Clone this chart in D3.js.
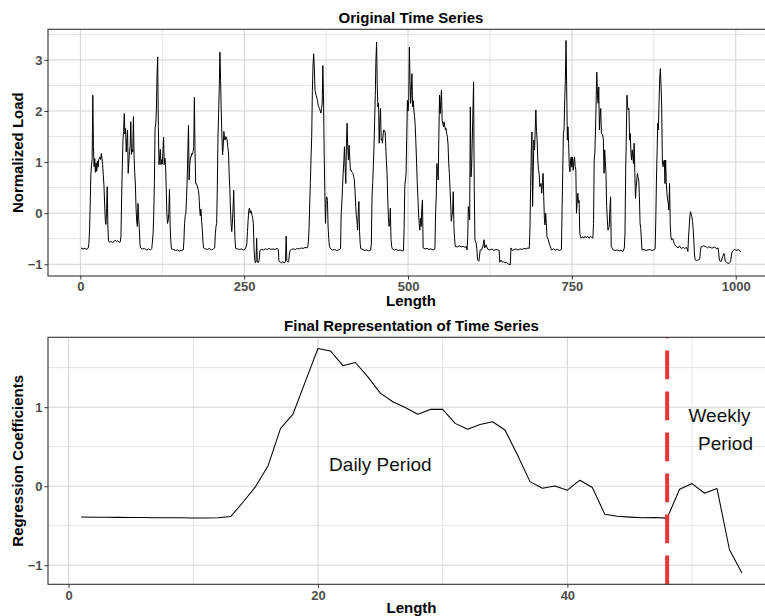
<!DOCTYPE html>
<html><head><meta charset="utf-8">
<script src="https://cdn.jsdelivr.net/npm/d3@7"></script>
<style>
body{margin:0;background:#fff;}
svg text{font-family:"Liberation Sans",Arial,Helvetica,sans-serif;}
</style>
</head><body>
<svg id="chart" width="765" height="616"></svg>
<script>
// ---------------- DATA ----------------
// Original time series (index, normalized load)
const week1 = [
[1,-0.68],[4,-0.70],[7,-0.69],[10,-0.71],[12,-0.68],[13,-0.60],[14,-0.35],[15,0.15],[16,0.75],[17,0.95],[18,1.05],[19,2.31],[20,1.3],[21,0.91],[22,1.07],[23,0.80],[24,0.98],[25,0.82],[26,1.02],[27,0.90],[28,1.05],[30,1.10],[31,1.05],[32,1.17],[33,1.08],[34,0.95],[35,0.75],[36,0.55],[37,0.2],[38,-0.13],[39,-0.22],[40,0.0],[41,0.52],[42,-0.25],[43,-0.55],[45,-0.57],[47,-0.55],[49,-0.58],[51,-0.56],[53,-0.53],[55,-0.55],[57,-0.54],[59,-0.57],[61,-0.56],
[62,-0.45],[63,0.3],[64,0.9],[65,1.43],[66,1.6],[67,1.95],[68,1.55],[69,1.66],[70,1.2],[71,1.43],[72,1.63],[73,0.78],[74,1.0],[75,1.21],[76,1.3],[77,1.79],[78,1.15],[79,1.25],[80,1.2],[81,1.89],[82,1.1],[83,0.8],[84,0.55],[85,0.1],[86,-0.16],[87,-0.26],[88,0.19],[89,-0.1],[90,-0.3],[91,-0.62],[92,-0.68],[95,-0.70],[98,-0.69],[101,-0.72],[104,-0.70],[107,-0.72],[109,-0.69],
[110,-0.55],[111,-0.4],[112,0.0],[113,0.6],[114,1.66],[115,1.75],[116,2.0],[117,2.7],[118,3.06],[119,1.7],[120,0.95],[121,1.1],[122,1.25],[123,0.95],[124,1.05],[125,0.96],[126,1.2],[127,1.49],[128,0.95],[129,1.08],[130,0.95],[131,0.5],[132,0.0],[133,-0.2],[134,-0.15],[135,0.0],[136,0.47],[137,-0.25],[138,-0.55],[139,-0.70],[142,-0.71],[145,-0.73],[148,-0.72],[151,-0.74],[154,-0.73],[157,-0.72],
[158,-0.55],[159,-0.2],[160,-0.05],[161,0.0],[162,0.3],[163,0.65],[164,1.2],[165,1.72],[166,0.65],[167,0.95],[168,1.1],[169,1.1],[170,1.17],[171,1.15],[172,1.2],[173,1.3],[174,2.27],[175,1.2],[176,0.58],[177,0.58],[178,0.55],[180,0.45],[181,0.35],[182,0.1],[183,-0.05],[184,0.08],[185,-0.16],[186,-0.3],[187,-0.55],[188,-0.68],[191,-0.70],[194,-0.71],[197,-0.69],[200,-0.72],[203,-0.70],[205,-0.68],
[206,-0.4],[207,-0.26],[208,-0.2],[209,0.5],[210,1.5],[211,1.95],[212,2.5],[213,3.15],[214,2.6],[215,2.0],[216,1.5],[217,1.14],[218,1.3],[219,1.6],[220,1.45],[221,1.43],[222,1.5],[223,1.48],[224,1.43],[225,1.3],[226,1.2],[227,0.78],[228,0.5],[229,0.1],[230,-0.2],[231,-0.36],[232,-0.18],[233,0.1],[234,0.45],[235,-0.1],[236,-0.52],[237,-0.69],[240,-0.70],[243,-0.71],[246,-0.70],[249,-0.72],[252,-0.70],
[254,-0.60],[255,-0.36],[256,-0.13],[257,0.05],[258,0.10],[259,0.0],[260,0.05],[261,0.02],[262,-0.05],[263,-0.10],[264,-0.2],[265,-0.7],[266,-0.9],[267,-0.97],[268,-0.96],[269,-0.49],[270,-0.93],[271,-0.97],[272,-0.96],[273,-0.90],[274,-0.73],[276,-0.71],[279,-0.72],[282,-0.70],[285,-0.71],[288,-0.69],[291,-0.71],[294,-0.70],[297,-0.71],[300,-0.69],[302,-0.71],[303,-0.93],[305,-0.96],[307,-0.97],[309,-0.95],[311,-0.97],[313,-0.95],[314,-0.45],[315,-0.93],[317,-0.96],[318,-0.93],[319,-0.80],[320,-0.73],[322,-0.71],[325,-0.70],[328,-0.71],[331,-0.69],[334,-0.70]
];
const week2 = [
[337,-0.68],[340,-0.69],[343,-0.67],[346,-0.68],[347,-0.66],[348,-0.55],[349,-0.3],[350,0.2],[351,0.6],[352,1.1],[353,1.5],[354,2.4],[355,2.9],[356,3.12],[357,2.85],[358,2.41],[359,2.35],[360,2.3],[361,2.25],[362,2.2],[363,2.1],[364,2.08],[365,2.05],[366,2.0],[367,1.96],[368,2.05],[369,2.15],[370,2.89],[371,2.3],[372,1.2],[373,0.42],[374,-0.2],[375,0.26],[376,0.32],[377,0.25],[378,-0.26],[379,-0.5],[380,-0.65],[382,-0.70],[385,-0.72],[388,-0.71],[391,-0.73],[394,-0.72],[397,-0.70],
[398,0.0],[399,0.2],[400,0.5],[401,0.78],[402,1.0],[403,1.3],[404,0.9],[405,0.58],[406,1.37],[407,1.76],[408,1.3],[409,1.04],[410,1.33],[411,1.1],[412,0.84],[413,0.85],[414,0.81],[415,0.80],[416,0.78],[417,0.72],[418,0.65],[419,0.45],[420,0.2],[421,-0.05],[422,-0.13],[423,-0.33],[424,0.0],[425,0.23],[426,-0.36],[427,-0.6],[428,-0.70],[431,-0.71],[434,-0.73],[437,-0.72],[440,-0.74],[443,-0.72],
[444,-0.60],[445,0.3],[446,0.58],[447,0.91],[448,1.3],[449,1.8],[450,2.3],[451,3.0],[452,3.35],[453,2.5],[454,2.08],[455,2.15],[456,1.37],[457,1.8],[458,2.05],[459,1.43],[460,1.45],[461,1.37],[462,1.55],[463,1.63],[464,1.6],[465,1.6],[466,1.3],[467,1.0],[468,0.78],[469,0.3],[470,-0.07],[471,-0.26],[472,-0.2],[473,0.1],[474,-0.52],[475,-0.65],[476,-0.70],[479,-0.72],[482,-0.71],[485,-0.73],[488,-0.72],[491,-0.74],[493,-0.73],
[494,-0.3],[495,0.52],[496,0.65],[497,0.78],[498,1.5],[499,2.21],[500,2.0],[501,2.21],[502,3.25],[503,2.6],[504,2.15],[505,2.4],[506,2.73],[507,2.08],[508,2.2],[509,2.0],[510,1.89],[511,1.69],[512,1.37],[513,1.0],[514,0.6],[515,0.32],[516,0.0],[517,-0.2],[518,-0.33],[519,-0.1],[520,-0.26],[521,0.1],[522,0.26],[523,-0.68],[526,-0.70],[529,-0.69],[532,-0.71],[535,-0.70],[538,-0.72],[541,-0.70],
[542,0.0],[543,0.3],[544,0.97],[545,0.8],[546,0.65],[547,1.5],[548,2.31],[549,1.95],[550,2.2],[551,2.41],[552,1.82],[553,1.75],[554,1.69],[555,1.79],[556,1.7],[557,1.63],[558,1.66],[559,1.55],[560,1.5],[561,1.35],[562,1.0],[563,0.78],[564,0.5],[565,0.2],[566,-0.16],[567,-0.05],[568,0.03],[569,0.42],[570,-0.26],[571,-0.5],[572,-0.65],[575,-0.66],[578,-0.64],[581,-0.66],[584,-0.65],[587,-0.67],[589,-0.65],[590,-0.72],
[591,-0.5],[592,0.13],[593,0.0],[594,-0.13],[595,2.08],[596,0.71],[597,0.9],[598,1.43],[599,2.0],[600,2.57],[601,0.52],[602,-0.52],[604,-0.59],[605,-0.7],[606,-0.91],[608,-0.94],[609,-0.85],[610,-0.72],[612,-0.72],[614,-0.66],[616,-0.52],[617,-0.68],[619,-0.62],[620,-0.66],[622,-0.71],[625,-0.72],[628,-0.70],[631,-0.73],[634,-0.71],[637,-0.72],[639,-0.73],[640,-0.96],[642,-0.92],[644,-0.96],[646,-0.95],[648,-0.97],[650,-0.96],[652,-0.99],[654,-1.0],[656,-1.01],[657,-0.68],[659,-0.73],[662,-0.71],[665,-0.70],[668,-0.72],[671,-0.70]
];
const week3 = [
[674,-0.71],[677,-0.69],[680,-0.70],[683,-0.68],[685,-0.69],
[686,-0.3],[687,0.5],[688,1.2],[689,1.59],[690,0.13],[691,0.8],[692,1.43],[693,1.24],[694,1.6],[695,2.02],[696,1.6],[697,1.43],[698,1.04],[699,0.85],[700,0.78],[701,0.52],[702,0.55],[703,0.58],[704,0.39],[705,0.6],[706,0.78],[707,0.32],[708,-0.1],[709,-0.23],[710,0.0],[711,-0.2],[712,-0.46],[714,-0.52],[716,-0.62],[719,-0.72],[722,-0.70],[725,-0.72],[728,-0.71],[731,-0.73],[734,-0.71],
[735,0.07],[736,0.8],[737,1.56],[738,1.63],[739,2.2],[740,2.6],[741,3.38],[742,2.5],[743,1.43],[744,1.69],[745,1.37],[746,0.91],[747,0.81],[748,1.04],[749,1.1],[750,0.9],[751,1.1],[752,0.84],[753,1.0],[754,1.1],[755,0.91],[756,0.85],[757,0.0],[758,0.2],[759,0.39],[760,0.2],[761,0.25],[762,-0.39],[763,-0.46],[764,-0.49],[766,-0.46],[768,-0.49],[770,-0.45],[772,-0.48],[774,-0.45],[776,-0.49],[778,-0.46],[780,-0.47],[782,-0.49],
[783,-0.2],[784,1.04],[785,1.17],[786,1.6],[787,2.21],[788,2.76],[789,2.3],[790,2.15],[791,2.47],[792,1.63],[793,1.9],[794,2.05],[795,1.56],[796,1.55],[797,1.53],[798,1.43],[799,0.78],[800,1.24],[801,1.0],[802,0.78],[803,0.13],[804,-0.1],[805,-0.33],[806,-0.3],[807,-0.26],[808,0.1],[809,0.32],[810,-0.65],[813,-0.72],[816,-0.73],[819,-0.72],[822,-0.74],[825,-0.73],[828,-0.75],[830,-0.68],
[831,-0.39],[832,0.78],[833,1.5],[834,2.31],[835,2.1],[836,2.02],[837,2.05],[838,1.43],[839,1.56],[840,1.2],[841,1.04],[842,1.24],[843,1.1],[844,0.97],[845,1.37],[846,0.8],[847,0.29],[848,0.5],[849,0.65],[850,0.78],[851,0.7],[852,0.65],[853,0.32],[854,-0.2],[855,-0.3],[856,-0.52],[857,-0.72],[860,-0.71],[863,-0.73],[866,-0.72],[869,-0.71],[872,-0.73],[875,-0.72],[877,-0.70],
[878,-0.13],[879,0.65],[880,1.2],[881,1.76],[882,1.63],[883,2.2],[884,2.67],[885,2.83],[886,2.5],[887,2.08],[888,1.04],[889,0.91],[890,1.0],[891,1.04],[892,0.58],[893,1.04],[894,0.6],[895,0.39],[896,0.26],[897,0.2],[898,0.06],[899,0.58],[900,-0.2],[901,-0.46],[902,-0.52],[904,-0.50],[906,-0.59],[907,-0.62],[909,-0.65],[912,-0.68],[914,-0.64],[917,-0.69],[920,-0.67],[922,-0.69],[925,-0.67],[927,-0.75],[928,-0.45],[929,-0.26],[930,-0.05],[931,0.03],[932,-0.02],[933,-0.07],[934,-0.16],[935,-0.3],[936,-0.52],[937,-0.8],[938,-0.91],[940,-0.93],[942,-0.92],[944,-0.91],[945,-0.9],[946,-0.75],[947,-0.66],[949,-0.65],[951,-0.64],[953,-0.65],[955,-0.66],[957,-0.68],[959,-0.66],[961,-0.67],[963,-0.68],[965,-0.68],[967,-0.66],[969,-0.67],[971,-0.70],[973,-0.68],[974,-0.78],[975,-0.92],[976,-0.94],[978,-0.94],[980,-0.85],[982,-0.79],[983,-0.85],[984,-0.94],[986,-0.96],[988,-0.98],[990,-0.98],[992,-0.95],[994,-0.78],[996,-0.73],[998,-0.71],[1000,-0.72],[1002,-0.73],[1004,-0.71],[1006,-0.74],[1008,-0.75]
];
const loadXTicks = [0, 250, 500, 750, 1000];
const loadXMinor = [125, 375, 625, 875];
const loadYTicks = [-1, 0, 1, 2, 3];
const loadYMinor = [-0.5, 0.5, 1.5, 2.5, 3.5];

// Final representation (regression coefficients)
const coefIndex = [1,2,3,4,5,6,7,8,9,10,11,12,13,14,15,16,17,18,19,20,21,22,23,24,25,26,27,28,29,30,31,32,33,34,35,36,37,38,39,40,41,42,43,44,45,46,47,48,49,50,51,52,53,54];
const coefValues = [-0.39,-0.392,-0.393,-0.394,-0.395,-0.397,-0.398,-0.399,-0.400,-0.402,-0.403,-0.398,-0.384,-0.20,-0.005,0.26,0.732,0.913,1.33,1.742,1.712,1.525,1.565,1.384,1.178,1.068,0.995,0.911,0.972,0.972,0.795,0.72,0.78,0.815,0.711,0.395,0.058,-0.025,0.004,-0.05,0.076,-0.017,-0.354,-0.379,-0.391,-0.40,-0.396,-0.404,-0.038,0.033,-0.089,-0.03,-0.804,-1.099];
const coefXTicks = [0, 20, 40];
const coefXMinor = [10, 30, 50];
const coefYTicks = [-1, 0, 1];
const coefYMinor = [-0.5, 0.5, 1.5];
const periodBreak = [48];
const annotText = ["Daily Period", "Weekly", "Period"];
const annotX = [25, 52.2, 52.68];
const annotY = [0.196, 0.816, 0.458];

// ---------------- DRAWING ----------------
const svg = d3.select("#chart");
const expand = e => { const r = e[1] - e[0]; return [e[0] - 0.05 * r, e[1] + 0.05 * r]; };
const fmt = d3.format("d");

function drawPanel(p) {
  const x = d3.scaleLinear().domain(expand(p.xExt)).range([p.left, p.right]);
  const y = d3.scaleLinear().domain(expand(p.yExt)).range([p.bottom, p.top]);
  const g = svg.append("g");
  g.selectAll(".mx").data(p.xMinor).join("line")
    .attr("x1", d => x(d)).attr("x2", d => x(d)).attr("y1", p.top).attr("y2", p.bottom)
    .attr("stroke", "#e4e4e4").attr("stroke-width", 1);
  g.selectAll(".my").data(p.yMinor).join("line")
    .attr("x1", p.left).attr("x2", p.right).attr("y1", d => y(d)).attr("y2", d => y(d))
    .attr("stroke", "#e4e4e4").attr("stroke-width", 1);
  g.selectAll(".Mx").data(p.xTicks).join("line")
    .attr("x1", d => x(d)).attr("x2", d => x(d)).attr("y1", p.top).attr("y2", p.bottom)
    .attr("stroke", "#d3d3d3").attr("stroke-width", 1);
  g.selectAll(".My").data(p.yTicks).join("line")
    .attr("x1", p.left).attr("x2", p.right).attr("y1", d => y(d)).attr("y2", d => y(d))
    .attr("stroke", "#d3d3d3").attr("stroke-width", 1);
  return {x, y, g};
}

function styleAxis(ax) {
  ax.select(".domain").remove();
  ax.selectAll(".tick line").attr("stroke", "#333333").attr("stroke-width", 1);
  ax.selectAll(".tick text").attr("fill", "#4d4d4d").attr("font-size", 13)
    .attr("font-weight", "bold").attr("font-family", '"Liberation Sans",Arial,sans-serif');
}

function finishPanel(p, x, y) {
  svg.append("rect").attr("x", p.left).attr("y", p.top)
    .attr("width", p.right - p.left).attr("height", p.bottom - p.top)
    .attr("fill", "none").attr("stroke", "#333333").attr("stroke-width", 1.1);
  const ax = svg.append("g").attr("transform", `translate(0,${p.bottom})`)
    .call(d3.axisBottom(x).tickValues(p.xTicks).tickFormat(fmt).tickSize(3.6).tickPadding(2.6));
  styleAxis(ax);
  const ay = svg.append("g").attr("transform", `translate(${p.left},0)`)
    .call(d3.axisLeft(y).tickValues(p.yTicks).tickFormat(fmt).tickSize(3.6).tickPadding(1.9));
  styleAxis(ay);
  svg.append("text").attr("x", (p.left + p.right) / 2).attr("y", p.titleY)
    .attr("text-anchor", "middle").attr("font-size", 15).attr("font-weight", "bold")
    .attr("fill", "#000").text(p.title);
  svg.append("text").attr("x", (p.left + p.right) / 2).attr("y", p.xLabY)
    .attr("text-anchor", "middle").attr("font-size", 15).attr("font-weight", "bold")
    .attr("fill", "#000").text(p.xLab);
  svg.append("text").attr("transform", `translate(23.3,${(p.top + p.bottom) / 2}) rotate(-90)`)
    .attr("text-anchor", "middle").attr("font-size", 15).attr("font-weight", "bold")
    .attr("fill", "#000").text(p.yLab);
}

// ---- Top panel ----
const loadPoints = week1.concat(week2, week3);
const topP = {
  left: 48, right: 774, top: 29.3, bottom: 276,
  xExt: d3.extent(loadPoints, d => d[0]), yExt: d3.extent(loadPoints, d => d[1]),
  xTicks: loadXTicks, xMinor: loadXMinor, yTicks: loadYTicks, yMinor: loadYMinor,
  title: "Original Time Series", titleY: 23, xLab: "Length", xLabY: 306, yLab: "Normalized Load"
};
const T = drawPanel(topP);
T.g.append("path").datum(loadPoints)
  .attr("d", d3.line().x(d => T.x(d[0])).y(d => T.y(d[1])))
  .attr("fill", "none").attr("stroke", "#000").attr("stroke-width", 1)
  .attr("stroke-linejoin", "round");
finishPanel(topP, T.x, T.y);

// ---- Bottom panel ----
const coefPoints = coefIndex.map((k, i) => [k, coefValues[i]]);
const botP = {
  left: 48, right: 775, top: 337.3, bottom: 584.3,
  xExt: d3.extent(coefIndex), yExt: d3.extent(coefValues),
  xTicks: coefXTicks, xMinor: coefXMinor, yTicks: coefYTicks, yMinor: coefYMinor,
  title: "Final Representation of Time Series", titleY: 331.4, xLab: "Length", xLabY: 613, yLab: "Regression Coefficients"
};
const B = drawPanel(botP);
B.g.append("path").datum(coefPoints)
  .attr("d", d3.line().x(d => B.x(d[0])).y(d => B.y(d[1])))
  .attr("fill", "none").attr("stroke", "#000").attr("stroke-width", 1.05)
  .attr("stroke-linejoin", "round");
B.g.selectAll(".brk").data(periodBreak).join("line")
  .attr("x1", d => B.x(d)).attr("x2", d => B.x(d))
  .attr("y1", botP.bottom).attr("y2", botP.top)
  .attr("stroke", "#ee3535").attr("stroke-width", 4)
  .attr("stroke-dasharray", "28.7,12.3");
B.g.selectAll(".ann").data(annotText).join("text")
  .attr("x", (d, i) => B.x(annotX[i])).attr("y", (d, i) => B.y(annotY[i]))
  .attr("text-anchor", "middle").attr("font-size", 19).attr("fill", "#111")
  .text(d => d);
finishPanel(botP, B.x, B.y);
</script>
</body></html>
